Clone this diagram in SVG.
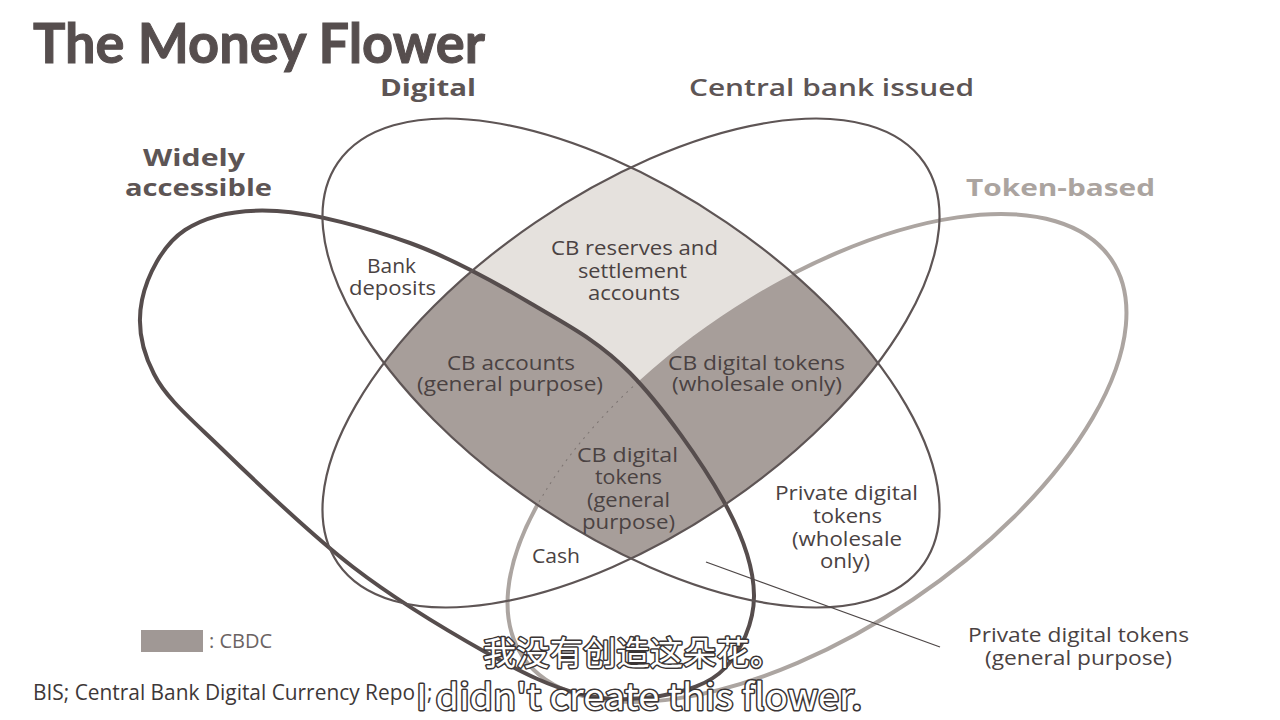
<svg xmlns="http://www.w3.org/2000/svg" width="1280" height="720" viewBox="0 0 1280 720">
<style>
.title{font-family:Lato,"Open Sans","Liberation Sans",sans-serif;font-weight:700;font-size:55px;fill:#564e4e;stroke:#564e4e;stroke-width:1}
.set{font-family:"Open Sans","Liberation Sans",sans-serif;font-weight:700;font-size:23px;fill:#5d5555}
.tok{fill:#aba4a0}
.lbl{font-family:"Open Sans","Liberation Sans",sans-serif;font-size:19.5px;font-weight:500;fill:#4a4242}
.foot{font-family:"Open Sans","Liberation Sans",sans-serif;font-size:21px;fill:#3e3838}
.sub{font-family:"Noto Sans CJK SC","Liberation Sans",sans-serif;fill:#ffffff;stroke:#3a3434;stroke-width:3;paint-order:stroke;stroke-linejoin:round}
.thin{fill:none;stroke:#5e5555;stroke-width:2.2}
.thick{fill:none;stroke:#564d4d;stroke-width:4}
.grey{fill:none;stroke:#aca5a1;stroke-width:4}
</style>
<defs>
<path id="eW" d="M277,211 C314.5,213.2 367.8,227.7 410,243 C452.2,258.3 493.3,281.3 530,303 C566.7,324.7 597.8,340.2 630,373 C662.2,405.8 702.3,463 723,500 C743.7,537 753.7,567 754,595 C754.3,623 740.7,651.2 725,668 C709.3,684.8 684.2,691.7 660,696 C635.8,700.3 608.8,701.2 580,694 C551.2,686.8 524.8,674.2 487,653 C449.2,631.8 397.5,601.3 353,567 C308.5,532.7 256,482 221,448 C190,418 166,398 154,374 C141,349 137,324.2 142,300 C147,275.8 162.5,244.8 185,230 C207.5,215.2 239.5,208.8 277,211 Z"/>
<ellipse id="eT" cx="817" cy="458" rx="355" ry="171" transform="rotate(-34 817 458)"/>
<ellipse id="eD" cx="631" cy="363" rx="355" ry="170" transform="rotate(34.3 631 363)"/>
<ellipse id="eC" cx="631" cy="363" rx="355" ry="170" transform="rotate(-34.3 631 363)"/>
<clipPath id="cC"><use href="#eC"/></clipPath>
<clipPath id="cD"><use href="#eD"/></clipPath>
<clipPath id="cW"><use href="#eW"/></clipPath>
</defs>
<rect width="1280" height="720" fill="#ffffff"/>
<text class="title" x="33" y="63" textLength="452" lengthAdjust="spacingAndGlyphs">The Money Flower</text>

<g id="token-based">
<use href="#eT" class="grey"/>
<text class="set tok" x="966" y="196" textLength="189" lengthAdjust="spacingAndGlyphs">Token-based</text>
</g>

<g id="shading">
<g clip-path="url(#cC)"><g clip-path="url(#cD)">
<rect x="0" y="0" width="1280" height="720" fill="#e5e1dd"/>
<use href="#eW" fill="#a79e9a"/>
<use href="#eT" fill="#a79e9a"/>
<g clip-path="url(#cW)"><use href="#eT" fill="none" stroke="#7d7572" stroke-width="1" stroke-dasharray="2 5"/></g>
</g></g>
</g>

<g id="widely-accessible">
<use href="#eW" class="thick"/>
<text class="set" x="143" y="166" textLength="102" lengthAdjust="spacingAndGlyphs">Widely</text>
<text class="set" x="125" y="196" textLength="147" lengthAdjust="spacingAndGlyphs">accessible</text>
</g>

<g id="digital">
<use href="#eD" class="thin"/>
<text class="set" x="380" y="96" textLength="96" lengthAdjust="spacingAndGlyphs">Digital</text>
</g>

<g id="central-bank-issued">
<use href="#eC" class="thin"/>
<text class="set" x="689" y="96" textLength="285" lengthAdjust="spacingAndGlyphs" style="font-weight:600">Central bank issued</text>
</g>

<g id="bank-deposits">
<text class="lbl" x="367" y="273" textLength="49" lengthAdjust="spacingAndGlyphs">Bank</text>
<text class="lbl" x="349" y="295" textLength="87" lengthAdjust="spacingAndGlyphs">deposits</text>
</g>
<g id="cb-reserves">
<text class="lbl" x="551" y="255" textLength="167" lengthAdjust="spacingAndGlyphs">CB reserves and</text>
<text class="lbl" x="578" y="278" textLength="109" lengthAdjust="spacingAndGlyphs">settlement</text>
<text class="lbl" x="588" y="300" textLength="92" lengthAdjust="spacingAndGlyphs">accounts</text>
</g>
<g id="cb-accounts">
<text class="lbl" x="447" y="370" textLength="128" lengthAdjust="spacingAndGlyphs">CB accounts</text>
<text class="lbl" x="417" y="391" textLength="186" lengthAdjust="spacingAndGlyphs">(general purpose)</text>
</g>
<g id="cb-tokens-wholesale">
<text class="lbl" x="668" y="370" textLength="177" lengthAdjust="spacingAndGlyphs">CB digital tokens</text>
<text class="lbl" x="672" y="391" textLength="170" lengthAdjust="spacingAndGlyphs">(wholesale only)</text>
</g>
<g id="cb-tokens-general">
<text class="lbl" x="577" y="462" textLength="101" lengthAdjust="spacingAndGlyphs">CB digital</text>
<text class="lbl" x="595" y="484" textLength="67" lengthAdjust="spacingAndGlyphs">tokens</text>
<text class="lbl" x="587" y="507" textLength="83" lengthAdjust="spacingAndGlyphs">(general</text>
<text class="lbl" x="582" y="529" textLength="93" lengthAdjust="spacingAndGlyphs">purpose)</text>
</g>
<g id="cash">
<text class="lbl" x="532" y="563" textLength="48" lengthAdjust="spacingAndGlyphs">Cash</text>
</g>
<g id="private-wholesale">
<text class="lbl" x="775" y="500" textLength="143" lengthAdjust="spacingAndGlyphs">Private digital</text>
<text class="lbl" x="813" y="523" textLength="69" lengthAdjust="spacingAndGlyphs">tokens</text>
<text class="lbl" x="792" y="546" textLength="110" lengthAdjust="spacingAndGlyphs">(wholesale</text>
<text class="lbl" x="820" y="568" textLength="50" lengthAdjust="spacingAndGlyphs">only)</text>
</g>
<g id="private-general">
<text class="lbl" x="968" y="642" textLength="221" lengthAdjust="spacingAndGlyphs">Private digital tokens</text>
<text class="lbl" x="985" y="665" textLength="187" lengthAdjust="spacingAndGlyphs">(general purpose)</text>
</g>

<g id="connectors">
<line x1="706" y1="562" x2="940" y2="647" stroke="#4e4747" stroke-width="1.3"/>
</g>

<g id="legend">
<rect x="141" y="630" width="62" height="22" fill="#a09895"/>
<text x="209" y="648" style="font-family:'Open Sans','Liberation Sans',sans-serif;font-size:20px;fill:#6b6363">: CBDC</text>
</g>

<text class="foot" x="33" y="700" textLength="382" lengthAdjust="spacingAndGlyphs">BIS; Central Bank Digital Currency Repo</text>
<text class="foot" x="427" y="700">;</text>
<text class="sub" x="483" y="665" font-size="33" textLength="300" lengthAdjust="spacingAndGlyphs">我没有创造这朵花。</text>
<text class="sub" x="416" y="710" font-size="36" textLength="446" lengthAdjust="spacingAndGlyphs">I didn't create this flower.</text>
</svg>
